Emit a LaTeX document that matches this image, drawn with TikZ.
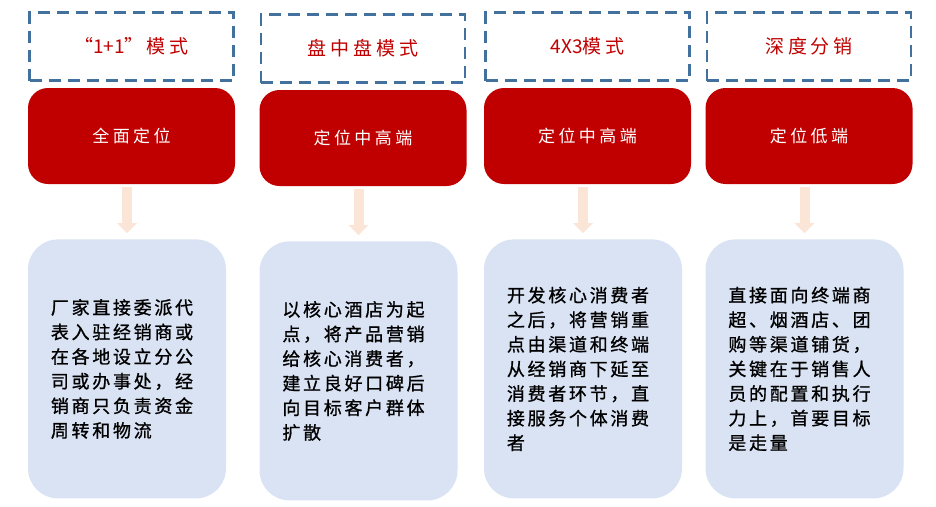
\documentclass[tikz,border=0pt]{standalone}
\usepackage{fontspec}
\setmainfont{Noto Sans CJK SC}
\newfontfamily\kaifont{Noto Sans CJK SC}[LetterSpace=20]
\newfontfamily\bodyfont{Noto Sans CJK SC}[LetterSpace=15, FakeBold=1]
\newfontfamily\tightfont{Noto Sans CJK SC}
\usepackage{xcolor}
\usetikzlibrary{arrows.meta, positioning}
\definecolor{deepred}{HTML}{C00000}
\definecolor{dashblue}{HTML}{41719C}
\definecolor{paleblue}{HTML}{DAE3F3}
\definecolor{peach}{HTML}{FBE5D6}
\newcommand{\lat}[1]{{\tightfont #1}}

\begin{document}
\begin{tikzpicture}[x=1pt, y=-1pt,
    node distance=6pt,
    mode/.style={draw=dashblue, line width=2.6pt, dash pattern=on 12pt off 7pt,
                 minimum width=204pt, minimum height=68pt, inner sep=0pt,
                 text=deepred, font=\kaifont\fontsize{19}{22}\selectfont},
    level/.style={fill=deepred, rounded corners=20pt, minimum width=207pt,
                  minimum height=96pt, inner sep=0pt, text=white,
                  font=\kaifont\fontsize{17}{20}\selectfont},
    desc/.style={fill=paleblue, rounded corners=30pt, minimum width=198pt,
                 minimum height=259pt, inner sep=0pt},
    desctext/.style={align=left, inner sep=0pt,
                     font=\bodyfont\fontsize{18}{24.6}\selectfont},
    flow/.style={-{Triangle[length=10pt, width=19pt]}, line width=10pt, draw=peach}]
  \useasboundingbox (0,0) rectangle (936,506);
  % models
  \node[mode] (m1) at (131.5,46.5) {“\lat{1+1}”\,模式};
  \node[mode] (m2) at (363,48.5)   {盘中盘模式};
  \node[mode] (m3) at (587.5,46.5) {\lat{4X3}模式};
  \node[mode] (m4) at (809,46.5)   {深度分销};
  % positioning
  \node[level, below=of m1] (r1) {全面定位};
  \node[level, below=of m2] (r2) {定位中高端};
  \node[level, below=of m3] (r3) {定位中高端};
  \node[level, below=of m4] (r4) {定位低端};
  % descriptions
  \foreach \n in {1,2,3,4}
    \node[desc, below=55pt of r\n.south west, anchor=north west] (b\n) {};
  \node[desctext] (t1) at ([xshift=-5pt]b1.center)
    {厂家直接委派代\\表入驻经销商或\\在各地设立分公\\司或办事处，经\\销商只负责资金\\周转和物流};
  \node[desctext] (t2) at ([xshift=-5pt]b2.center)
    {以核心酒店为起\\点，将产品营销\\给核心消费者，\\建立良好口碑后\\向目标客户群体\\扩散};
  \node[desctext] (t3) at ([xshift=-5pt]b3.center)
    {开发核心消费者\\之后，将营销重\\点由渠道和终端\\从经销商下延至\\消费者环节，直\\接服务个体消费\\者};
  \node[desctext] (t4) at ([xshift=-5pt]b4.center)
    {直接面向终端商\\超、烟酒店、团\\购等渠道铺货，\\关键在于销售人\\员的配置和执行\\力上，首要目标\\是走量};
  \foreach \n in {1,2,3,4}
    \draw[flow, shorten <=3pt, shorten >=6pt] (b\n.north |- r\n.south) -- (b\n.north);
\end{tikzpicture}
\end{document}
